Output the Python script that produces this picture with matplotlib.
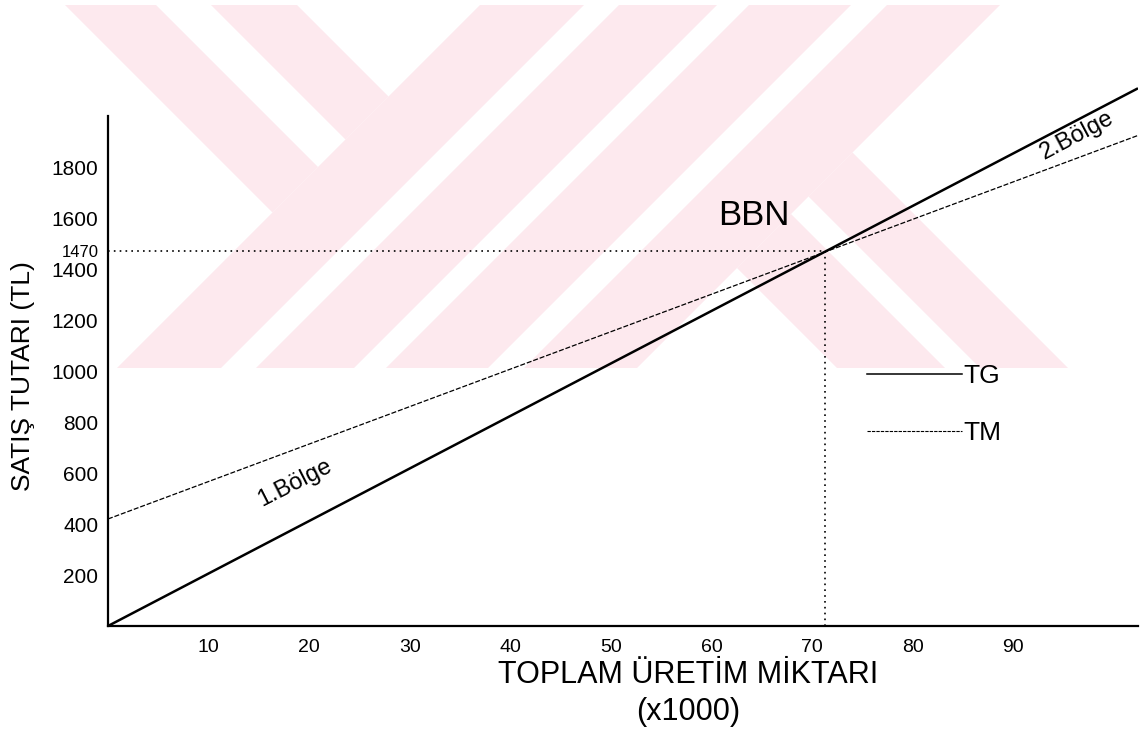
import numpy as np
import matplotlib.pyplot as plt
from matplotlib.patches import Polygon
from matplotlib.lines import Line2D

plt.rcParams['font.family'] = ['Liberation Sans', 'DejaVu Sans']

# --- veriler ---
uretim = [0, 102.4]          # x1000 adet
tg = [0, 2110]               # toplam gelir (TL)
tm = [420, 1925]             # toplam maliyet (TL)
bbn_x, bbn_y = 71.3, 1470    # basabas noktasi

x_ticks = [10, 20, 30, 40, 50, 60, 70, 80, 90]
y_ticks = [200, 400, 600, 800, 1000, 1200, 1400, 1470, 1600, 1800]

fig = plt.figure(figsize=(11.4, 7.32), dpi=100)

# --- arka plandaki soluk filigran (piksel koordinatlari) ---
bg = fig.add_axes([0, 0, 1, 1], zorder=0)
bg.set_xlim(0, 1140)
bg.set_ylim(732, 0)
bg.axis('off')
pembe = '#fde9ee'
y0, y1 = 5, 368
h = y1 - y0

def egik(a, b):
    # '/' bant, ust kenari [a, b]
    return [(a, y0), (b, y0), (b - h, y1), (a - h, y1)]

def ters(a, b, c):
    # '\' bant, ust kenari [a, b], c'den baslayan '/' kenarda biter
    ta, tb = (c - a) / 2, (c - b) / 2
    return [(a, y0), (b, y0), (b + tb, y0 + tb), (a + ta, y0 + ta)]

def kol(l, r, c):
    # '\' bant, alt kenari [l, r], c'den baslayan '/' kenardan cikar
    yl = (c + y0 + y1 - l) / 2
    yr = (c + y0 + y1 - r) / 2
    return [(l - (y1 - yl), yl), (r - (y1 - yr), yr), (r, y1), (l, y1)]

sekiller = [egik(480, 584), egik(619, 717), egik(749, 851), egik(887, 1000),
            ters(65, 156, 480), ters(211, 297, 480),
            kol(837, 945, 1000), kol(980, 1068, 1000)]
for s in sekiller:
    bg.add_patch(Polygon(s, closed=True, facecolor=pembe, edgecolor='none'))

# --- grafik ---
ax = fig.add_axes([108 / 1140, 106 / 732, 1030 / 1140, 553 / 732], zorder=1)
ax.set_facecolor('none')
ax.set_xlim(0, 102.4)
ax.set_ylim(0, 2170)

ax.plot(uretim, tg, color='black', lw=1.8, solid_capstyle='butt')
ax.plot(uretim, tm, color='black', lw=0.9, ls=(0, (4, 1.5)))
ax.plot([0, bbn_x], [bbn_y, bbn_y], color='black', lw=1.2, ls=(0, (1, 2.5)))
ax.plot([bbn_x, bbn_x], [0, bbn_y], color='black', lw=1.2, ls=(0, (1, 2.5)))

for sp in ['top', 'right']:
    ax.spines[sp].set_visible(False)
ax.spines['left'].set_bounds(0, 2000)
ax.spines['left'].set_linewidth(1.6)
ax.spines['bottom'].set_linewidth(1.6)

ax.set_xticks(x_ticks)
ax.set_xticklabels([str(v) for v in x_ticks], fontsize=14)
ax.set_yticks(y_ticks)
ax.set_yticklabels([str(v) for v in y_ticks], fontsize=15)
ax.tick_params(axis='both', length=0)
ax.tick_params(axis='x', pad=9)
ax.tick_params(axis='y', pad=7)
for lab in ax.get_yticklabels():
    if lab.get_text() == '1470':
        lab.set_fontsize(12)

ax.text(64.2, 1612, 'BBN', fontsize=25, ha='center', va='center')
ax.text(18.6, 561, '1.Bölge', fontsize=17, rotation=27,
        ha='center', va='center', rotation_mode='anchor')
ax.text(96.3, 1925, '2.Bölge', fontsize=17, rotation=28,
        ha='center', va='center', rotation_mode='anchor')

ax.set_xlabel('TOPLAM ÜRETİM MİKTARI\n(x1000)', fontsize=22, linespacing=1.3)
ax.xaxis.set_label_coords(0.563, -0.062)
ax.set_ylabel('SATIŞ TUTARI (TL)', fontsize=19)
ax.yaxis.set_label_coords(-0.071, 0.452)

tutacak = [Line2D([], [], color='black', lw=1.1),
           Line2D([], [], color='black', lw=0.8, ls=(0, (3, 1)))]
ax.legend(tutacak, ['TG', 'TM'], loc='upper left',
          bbox_to_anchor=(867 / 1140, 1 - 364 / 732),
          bbox_transform=fig.transFigure, frameon=False, fontsize=19,
          handlelength=3.6, handletextpad=0.05, borderpad=0,
          borderaxespad=0, labelspacing=1.25)

fig.savefig('out.png', dpi=100)
